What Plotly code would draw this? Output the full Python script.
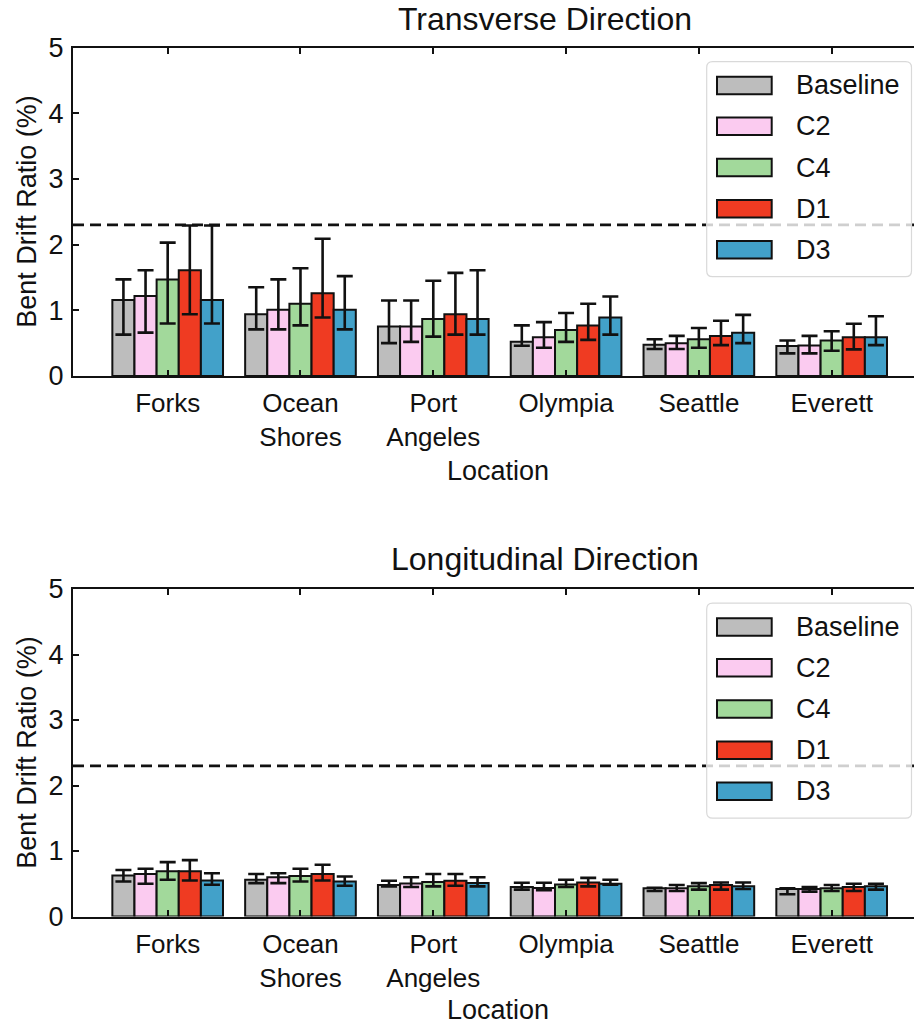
import plotly.graph_objects as go

W, H = 914, 1027

categories = ["Forks", "Ocean<br>Shores", "Port<br>Angeles", "Olympia", "Seattle", "Everett"]
series = ["Baseline", "C2", "C4", "D1", "D3"]
colors = ["#bdbdbd", "#fbcbf0", "#a2d99b", "#ef3b22", "#42a1c9"]

# Transverse direction: bar values, upper and lower error-bar ends
trans_mean = {
    "Baseline": [1.155, 0.94, 0.755, 0.52, 0.476, 0.456],
    "C2":       [1.216, 1.01, 0.755, 0.59, 0.50, 0.466],
    "C4":       [1.47, 1.10, 0.866, 0.70, 0.56, 0.54],
    "D1":       [1.61, 1.26, 0.94, 0.77, 0.61, 0.59],
    "D3":       [1.155, 1.01, 0.866, 0.89, 0.66, 0.59],
}
trans_upper = {
    "Baseline": [1.47, 1.35, 1.15, 0.77, 0.56, 0.54],
    "C2":       [1.61, 1.47, 1.15, 0.82, 0.61, 0.61],
    "C4":       [2.03, 1.64, 1.45, 0.96, 0.73, 0.68],
    "D1":       [2.29, 2.09, 1.57, 1.10, 0.84, 0.795],
    "D3":       [2.29, 1.52, 1.61, 1.21, 0.93, 0.91],
}
trans_lower = {
    "Baseline": [0.63, 0.71, 0.50, 0.46, 0.41, 0.345],
    "C2":       [0.66, 0.71, 0.52, 0.43, 0.41, 0.345],
    "C4":       [0.80, 0.77, 0.60, 0.52, 0.43, 0.385],
    "D1":       [0.94, 0.89, 0.63, 0.55, 0.47, 0.405],
    "D3":       [0.80, 0.71, 0.63, 0.63, 0.50, 0.47],
}

# Longitudinal direction
long_mean = {
    "Baseline": [0.627, 0.56, 0.48, 0.45, 0.43, 0.42],
    "C2":       [0.65, 0.60, 0.505, 0.435, 0.43, 0.42],
    "C4":       [0.69, 0.62, 0.525, 0.49, 0.46, 0.43],
    "D1":       [0.69, 0.65, 0.545, 0.52, 0.48, 0.45],
    "D3":       [0.55, 0.535, 0.51, 0.50, 0.46, 0.46],
}
long_upper = {
    "Baseline": [0.71, 0.65, 0.545, 0.515, 0.44, 0.43],
    "C2":       [0.73, 0.66, 0.60, 0.515, 0.48, 0.45],
    "C4":       [0.83, 0.73, 0.65, 0.56, 0.51, 0.48],
    "D1":       [0.86, 0.79, 0.65, 0.59, 0.52, 0.50],
    "D3":       [0.66, 0.61, 0.60, 0.56, 0.52, 0.50],
}
long_lower = {
    "Baseline": [0.535, 0.51, 0.46, 0.41, 0.39, 0.34],
    "C2":       [0.50, 0.51, 0.45, 0.40, 0.39, 0.38],
    "C4":       [0.56, 0.535, 0.46, 0.45, 0.41, 0.39],
    "D1":       [0.55, 0.55, 0.47, 0.46, 0.41, 0.39],
    "D3":       [0.485, 0.47, 0.46, 0.485, 0.42, 0.41],
}

limit_value = 2.3
panel_titles = ["Transverse Direction", "Longitudinal Direction"]
y_title = "Bent Drift Ratio (%)"
x_title = "Location"
y_ticks = [0, 1, 2, 3, 4, 5]

FONT = "Liberation Sans, Arial, sans-serif"
FS = 27
INK = "#111111"


def px(x):
    return x / W


def py(y):
    return 1 - y / H


fig = go.Figure()
xpos = list(range(len(categories)))

panels = [
    (trans_mean, trans_upper, trans_lower, "x", "y"),
    (long_mean, long_upper, long_lower, "x2", "y2"),
]
for (mean, upper, lower, xa, ya) in panels:
    for s, c in zip(series, colors):
        m = mean[s]
        plus = [u - v for u, v in zip(upper[s], m)]
        minus = [v - l for v, l in zip(m, lower[s])]
        fig.add_trace(go.Bar(
            x=xpos, y=m, name=s, xaxis=xa, yaxis=ya, showlegend=False,
            marker=dict(color=c, line=dict(color=INK, width=2)),
            error_y=dict(type="data", array=plus, arrayminus=minus, symmetric=False,
                         color=INK, thickness=2.6, width=8),
        ))

# panel pixel geometry
panel_px = [(47.5, 376.0), (589.0, 916.5)]
x_left = 73.0

axis_common = dict(
    showline=True, linecolor=INK, linewidth=2.2, ticks="inside", ticklen=6,
    tickwidth=1.6, tickcolor=INK, showgrid=False, zeroline=False, automargin=False,
    tickfont=dict(family=FONT, size=FS, color=INK),
)

layout = dict(
    width=W, height=H, margin=dict(l=0, r=0, t=0, b=0, autoexpand=False),
    paper_bgcolor="white", plot_bgcolor="white",
    barmode="group", bargap=1 / 6, bargroupgap=0,
    showlegend=False, font=dict(family=FONT, size=FS, color=INK),
)
for i, (top, bot) in enumerate(panel_px):
    sfx = "" if i == 0 else str(i + 1)
    layout["xaxis" + sfx] = dict(
        axis_common, domain=[px(x_left), 1], range=[-0.713, 5.62],
        tickvals=xpos, ticktext=categories, mirror="ticks",
        anchor="y" + sfx, ticklabelstandoff=3,
        tickfont=dict(family=FONT, size=26, color=INK),
    )
    layout["yaxis" + sfx] = dict(
        axis_common, domain=[py(bot), py(top)], range=[0, 5],
        tickvals=y_ticks, anchor="x" + sfx, ticklabelstandoff=2,
    )
fig.update_layout(**layout)

shapes = []
annotations = []
legend_entry_y = [85.5, 126.3, 167.5, 208.8, 249.8]
for i, (top, bot) in enumerate(panel_px):
    sfx = "" if i == 0 else str(i + 1)
    off = top - 47.5
    # limit line
    shapes.append(dict(type="line", xref="paper", yref="y" + sfx,
                       x0=px(x_left), x1=1, y0=limit_value, y1=limit_value,
                       line=dict(color=INK, width=2.6, dash="11px,6px"), layer="above"))
    # legend box (rounded)
    lx0, lx1, ly0, ly1, r = 706.7, 911.5, 61.7 + off, 276.7 + off, 6
    path = (f"M {px(lx0 + r)},{py(ly0)} L {px(lx1 - r)},{py(ly0)} "
            f"Q {px(lx1)},{py(ly0)} {px(lx1)},{py(ly0 + r)} "
            f"L {px(lx1)},{py(ly1 - r)} Q {px(lx1)},{py(ly1)} {px(lx1 - r)},{py(ly1)} "
            f"L {px(lx0 + r)},{py(ly1)} Q {px(lx0)},{py(ly1)} {px(lx0)},{py(ly1 - r)} "
            f"L {px(lx0)},{py(ly0 + r)} Q {px(lx0)},{py(ly0)} {px(lx0 + r)},{py(ly0)} Z")
    shapes.append(dict(type="path", xref="paper", yref="paper", path=path,
                       fillcolor="rgba(255,255,255,0.8)",
                       line=dict(color="#d9d9d9", width=1.2), layer="above"))
    for s, c, ey in zip(series, colors, legend_entry_y):
        cy = ey + off
        shapes.append(dict(type="rect", xref="paper", yref="paper",
                           x0=px(717), x1=px(771.7), y0=py(cy - 8.8), y1=py(cy + 8.8),
                           fillcolor=c, line=dict(color=INK, width=2), layer="above"))
        annotations.append(dict(xref="paper", yref="paper", x=px(794), y=py(cy),
                                text=s, showarrow=False, xanchor="left", yanchor="middle",
                                font=dict(family=FONT, size=FS, color=INK)))
    # titles
    annotations.append(dict(xref="paper", yref="paper", x=px(545), y=py(19 + i * 540),
                            text=panel_titles[i], showarrow=False, xanchor="center",
                            yanchor="middle", font=dict(family=FONT, size=32, color=INK)))
    annotations.append(dict(xref="paper", yref="paper", x=px(498), y=py(471 + off - 3 * i),
                            text=x_title, showarrow=False, xanchor="center",
                            yanchor="middle", font=dict(family=FONT, size=FS, color=INK)))
    annotations.append(dict(xref="paper", yref="paper", x=px(27), y=py((top + bot) / 2),
                            text=y_title, showarrow=False, xanchor="center",
                            yanchor="middle", textangle=-90,
                            font=dict(family=FONT, size=FS, color=INK)))

fig.update_layout(shapes=shapes, annotations=annotations)

fig.write_html("out.html", config={"displayModeBar": False},
               post_script="document.body.style.margin='0';document.body.style.overflow='hidden';")
